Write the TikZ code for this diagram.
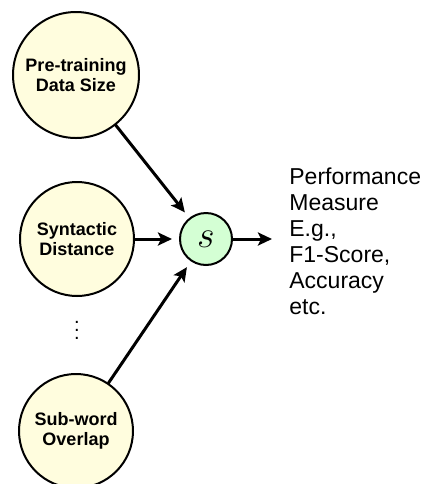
\documentclass[tikz,border=0pt]{standalone}
\usepackage{amsmath}
\usepackage{fix-cm}
\usepackage{fontspec}
\setmainfont{Liberation Sans}
\usetikzlibrary{arrows.meta}

\begin{document}
\begin{tikzpicture}[x=0.5pt, y=-0.5pt,
			line join=round, line cap=round,
			factor/.style = {circle, draw, line width=1pt, fill=yellow!13, minimum size=57pt, inner sep=1pt, align=center, font=\fontsize{9}{10}\selectfont\bfseries},
			score/.style = {circle, draw, line width=1pt, fill=green!17, minimum size=26pt, inner sep=0pt, font=\fontsize{19}{21}\selectfont},
			link/.style = {line width=1.5pt, -{Stealth[length=7pt, width=6.5pt, inset=1.5pt]}, shorten >=3.5pt}
			]
			\useasboundingbox (0,0) rectangle (423,484);
			% factors on the left
			\node[factor, minimum size=63pt] (size) at (76,75) {Pre-training\\Data Size};
			\node[factor] (syn) at (77,239) {Syntactic\\Distance};
			\node (dots) at (77,324) {$\vdots$};
			\node[factor] (overlap) at (76,431) {Sub-word\\Overlap};
			% score and measure
			\node[score] (s) at (206,239) {$s$};
			\node[anchor=north west, inner sep=0pt, align=left, font=\fontsize{11.5}{13}\selectfont] (perf) at (289,167)
				{Performance\\Measure\\E.g.,\\F1-Score,\\Accuracy\\etc.};
			\draw[link] (size) -- (s);
			\draw[link] (syn) -- (s);
			\draw[link] (overlap) -- (s);
			\draw[link, shorten >=8.5pt] (s) -- (s -| perf.west);
		\end{tikzpicture}
\end{document}
